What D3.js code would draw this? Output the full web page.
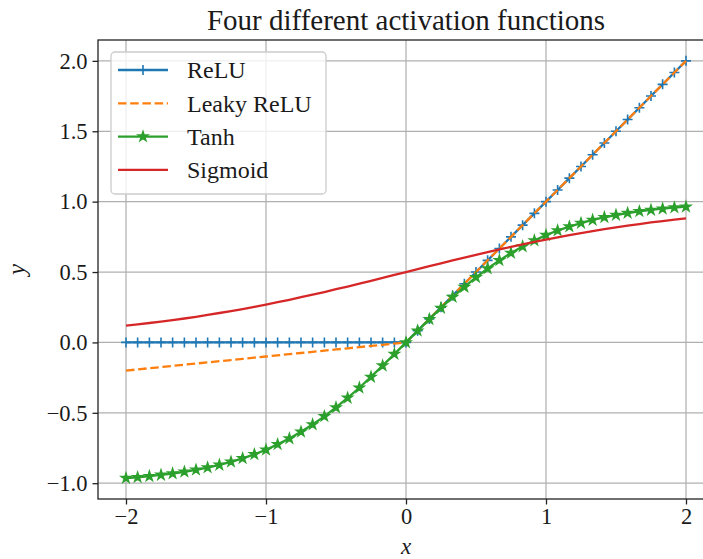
<!DOCTYPE html>
<html>
<head>
<meta charset="utf-8">
<script src="https://cdn.jsdelivr.net/npm/d3@7"></script>
<style>
  body { margin: 0; background: #fff; }
</style>
</head>
<body>
<div id="chart"></div>
<script>
// sample points along x (49 of them, step 1/12)
const xValues = [-2, -1.917, -1.833, -1.75, -1.667, -1.583, -1.5, -1.417, -1.333, -1.25, -1.167, -1.083,
  -1, -0.917, -0.833, -0.75, -0.667, -0.583, -0.5, -0.417, -0.333, -0.25, -0.167, -0.083,
  0, 0.083, 0.167, 0.25, 0.333, 0.417, 0.5, 0.583, 0.667, 0.75, 0.833, 0.917,
  1, 1.083, 1.167, 1.25, 1.333, 1.417, 1.5, 1.583, 1.667, 1.75, 1.833, 1.917, 2];

const reluValues = [0, 0, 0, 0, 0, 0, 0, 0, 0, 0, 0, 0,
  0, 0, 0, 0, 0, 0, 0, 0, 0, 0, 0, 0,
  0, 0.083, 0.167, 0.25, 0.333, 0.417, 0.5, 0.583, 0.667, 0.75, 0.833, 0.917,
  1, 1.083, 1.167, 1.25, 1.333, 1.417, 1.5, 1.583, 1.667, 1.75, 1.833, 1.917, 2];

const leakyValues = [-0.2, -0.192, -0.183, -0.175, -0.167, -0.158, -0.15, -0.142, -0.133, -0.125, -0.117, -0.108,
  -0.1, -0.092, -0.083, -0.075, -0.067, -0.058, -0.05, -0.042, -0.033, -0.025, -0.017, -0.008,
  0, 0.083, 0.167, 0.25, 0.333, 0.417, 0.5, 0.583, 0.667, 0.75, 0.833, 0.917,
  1, 1.083, 1.167, 1.25, 1.333, 1.417, 1.5, 1.583, 1.667, 1.75, 1.833, 1.917, 2];

const tanhValues = [-0.964, -0.958, -0.950, -0.941, -0.931, -0.919, -0.905, -0.889, -0.870, -0.848, -0.823, -0.795,
  -0.762, -0.724, -0.682, -0.635, -0.583, -0.525, -0.462, -0.394, -0.322, -0.245, -0.165, -0.083,
  0, 0.083, 0.165, 0.245, 0.322, 0.394, 0.462, 0.525, 0.583, 0.635, 0.682, 0.724,
  0.762, 0.795, 0.823, 0.848, 0.870, 0.889, 0.905, 0.919, 0.931, 0.941, 0.950, 0.958, 0.964];

const sigmoidValues = [0.119, 0.128, 0.138, 0.148, 0.159, 0.170, 0.182, 0.195, 0.209, 0.223, 0.237, 0.253,
  0.269, 0.286, 0.303, 0.321, 0.339, 0.358, 0.378, 0.397, 0.417, 0.438, 0.458, 0.479,
  0.5, 0.521, 0.542, 0.562, 0.583, 0.603, 0.622, 0.642, 0.661, 0.679, 0.697, 0.714,
  0.731, 0.747, 0.763, 0.777, 0.791, 0.805, 0.818, 0.830, 0.841, 0.852, 0.862, 0.872, 0.881];

const seriesNames = ["ReLU", "Leaky ReLU", "Tanh", "Sigmoid"];
const xTicks = [-2, -1, 0, 1, 2];
const yTicks = [-1, -0.5, 0, 0.5, 1, 1.5, 2];
const titleText = "Four different activation functions";

const FONT = "'Liberation Serif', 'DejaVu Serif', serif";
const width = 703, height = 559;
const margin = {top: 40, right: -11, bottom: 60, left: 98};

const series = [
  {name: seriesNames[0], values: reluValues, color: "#1f77b4", dash: null, marker: "plus"},
  {name: seriesNames[1], values: leakyValues, color: "#ff7f0e", dash: "8.5,3.7", marker: null},
  {name: seriesNames[2], values: tanhValues, color: "#2ca02c", dash: null, marker: "star"},
  {name: seriesNames[3], values: sigmoidValues, color: "#d62728", dash: null, marker: null}
];

// matplotlib-like 5% margins
const xExt = d3.extent(xValues);
const yExt = d3.extent(series.flatMap(s => s.values));
const xPad = (xExt[1] - xExt[0]) * 0.05, yPad = (yExt[1] - yExt[0]) * 0.05;

const x = d3.scaleLinear()
  .domain([xExt[0] - xPad, xExt[1] + xPad])
  .range([margin.left, width - margin.right]);
const y = d3.scaleLinear()
  .domain([yExt[0] - yPad, yExt[1] + yPad])
  .range([height - margin.bottom, margin.top]);

const svg = d3.select("#chart").append("svg")
  .attr("width", width)
  .attr("height", height);

// grid
svg.append("g")
  .selectAll("line")
  .data(xTicks)
  .join("line")
    .attr("x1", d => x(d)).attr("x2", d => x(d))
    .attr("y1", margin.top).attr("y2", height - margin.bottom)
    .attr("stroke", "#b0b0b0").attr("stroke-width", 1.25);
svg.append("g")
  .selectAll("line")
  .data(yTicks)
  .join("line")
    .attr("x1", margin.left).attr("x2", width - margin.right)
    .attr("y1", d => y(d)).attr("y2", d => y(d))
    .attr("stroke", "#b0b0b0").attr("stroke-width", 1.25);

const plusPath = "M-5,0H5M0,-5V5";
const starPath = d3.symbol(d3.symbolStar, 26)();

const line = d3.line()
  .x((d, i) => x(xValues[i]))
  .y(d => y(d));

const plot = svg.append("g");
series.forEach(s => {
  plot.append("path")
    .attr("d", line(s.values))
    .attr("fill", "none")
    .attr("stroke", s.color)
    .attr("stroke-width", 2.3)
    .attr("stroke-dasharray", s.dash);
  if (s.marker) {
    plot.append("g")
      .selectAll("path")
      .data(s.values)
      .join("path")
        .attr("transform", (d, i) => `translate(${x(xValues[i])},${y(d)})`)
        .attr("d", s.marker === "plus" ? plusPath : starPath)
        .attr("fill", s.marker === "plus" ? "none" : s.color)
        .attr("stroke", s.color)
        .attr("stroke-width", 1.6);
  }
});

// frame
svg.append("rect")
  .attr("x", margin.left).attr("y", margin.top)
  .attr("width", width - margin.right - margin.left)
  .attr("height", height - margin.bottom - margin.top)
  .attr("fill", "none").attr("stroke", "#222").attr("stroke-width", 1.3);

// axes
const fmtY = d3.format(".1f");
const xAxis = svg.append("g")
  .attr("transform", `translate(0,${height - margin.bottom})`)
  .call(d3.axisBottom(x).tickValues(xTicks).tickFormat(d3.format("d")).tickSize(5.5).tickPadding(4));
const yAxis = svg.append("g")
  .attr("transform", `translate(${margin.left},0)`)
  .call(d3.axisLeft(y).tickValues(yTicks).tickFormat(fmtY).tickSize(5.5).tickPadding(5));
[xAxis, yAxis].forEach(a => {
  a.select(".domain").remove();
  a.selectAll(".tick line").attr("stroke", "#222").attr("stroke-width", 1.3);
  a.selectAll(".tick text")
    .attr("fill", "#1a1a1a")
    .style("font-family", FONT)
    .style("font-size", "22.5px");
});

// title and labels
svg.append("text")
  .attr("x", (margin.left + width - margin.right) / 2)
  .attr("y", 30)
  .attr("text-anchor", "middle")
  .attr("fill", "#1a1a1a")
  .style("font-family", FONT)
  .style("font-size", "29px")
  .text(titleText);

svg.append("text")
  .attr("x", (margin.left + width - margin.right) / 2)
  .attr("y", 554)
  .attr("text-anchor", "middle")
  .attr("fill", "#1a1a1a")
  .style("font-family", FONT)
  .style("font-size", "23px")
  .style("font-style", "italic")
  .text("x");

svg.append("text")
  .attr("transform", `translate(25,${(margin.top + height - margin.bottom) / 2}) rotate(-90)`)
  .attr("text-anchor", "middle")
  .attr("fill", "#1a1a1a")
  .style("font-family", FONT)
  .style("font-size", "25px")
  .style("font-style", "italic")
  .text("y");

// legend
const legend = svg.append("g").attr("transform", "translate(111,52)");
legend.append("rect")
  .attr("width", 215).attr("height", 142)
  .attr("rx", 4)
  .attr("fill", "white").attr("fill-opacity", 0.8)
  .attr("stroke", "#cccccc").attr("stroke-width", 1.3);

const item = legend.selectAll(".item")
  .data(series)
  .join("g")
    .attr("class", "item")
    .attr("transform", (d, i) => `translate(0,${18 + i * 33.3})`);
item.append("line")
  .attr("x1", 7).attr("x2", 57)
  .attr("stroke", d => d.color)
  .attr("stroke-width", 2.3)
  .attr("stroke-dasharray", d => d.dash);
item.filter(d => d.marker)
  .append("path")
    .attr("transform", "translate(32,0)")
    .attr("d", d => d.marker === "plus" ? plusPath : starPath)
    .attr("fill", d => d.marker === "plus" ? "none" : d.color)
    .attr("stroke", d => d.color)
    .attr("stroke-width", 1.6);
item.append("text")
  .attr("x", 76)
  .attr("dy", "0.35em")
  .attr("fill", "#1a1a1a")
  .style("font-family", FONT)
  .style("font-size", "24px")
  .text(d => d.name);
</script>
</body>
</html>
